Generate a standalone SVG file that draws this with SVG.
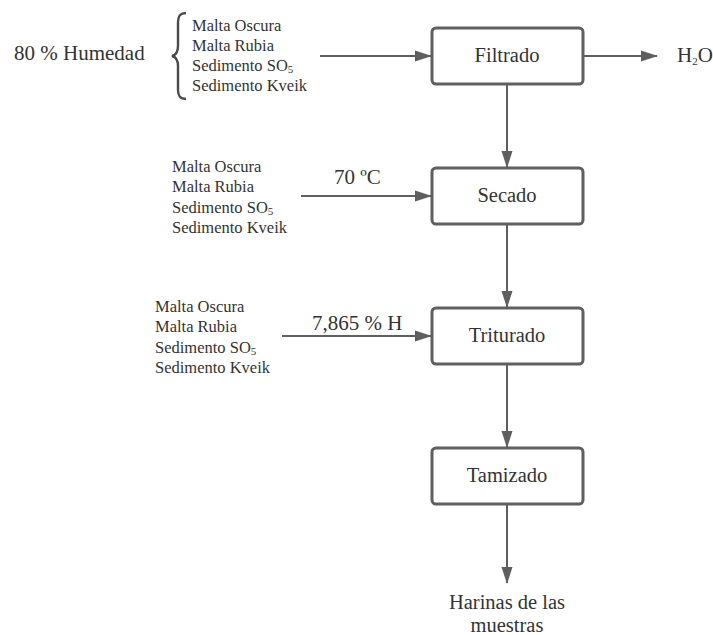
<svg xmlns="http://www.w3.org/2000/svg" width="713" height="635" viewBox="0 0 713 635">
<defs>
<style>
.box{fill:#fff;stroke:#5f5f5f;stroke-width:3}
text{font-family:'Liberation Serif','Times New Roman','DejaVu Serif',serif;fill:#333}
.lbl{font-size:20.5px;text-anchor:middle}
.lst{font-size:16.5px}
.big{font-size:21px}
.edge{stroke:#5f5f5f;stroke-width:2;fill:none;marker-end:url(#ah)}
.sub{font-size:11px}
</style>
<marker id="ah" viewBox="0 0 17 12" refX="16" refY="6" markerWidth="17" markerHeight="12" markerUnits="userSpaceOnUse" orient="auto">
<path d="M0,0.5 L17,6 L0,11.5 Z" fill="#5f5f5f"/>
</marker>
</defs>
<rect width="713" height="635" fill="#fff"/>

<g id="connectors">
<path class="edge" d="M320,56 H431"/>
<path class="edge" d="M583,56 H657"/>
<path class="edge" d="M507,84 V167"/>
<path class="edge" d="M301,196 H431"/>
<path class="edge" d="M507,224 V307"/>
<path class="edge" d="M282,336 H431"/>
<path class="edge" d="M507,364 V447"/>
<path class="edge" d="M507,504 V583"/>
</g>

<g id="filtrado">
<rect class="box" x="432" y="28" width="151" height="56" rx="4"/>
<text class="lbl" x="507" y="62">Filtrado</text>
</g>
<g id="secado">
<rect class="box" x="432" y="168" width="151" height="56" rx="4"/>
<text class="lbl" x="507" y="202">Secado</text>
</g>
<g id="triturado">
<rect class="box" x="432" y="308" width="151" height="56" rx="4"/>
<text class="lbl" x="507" y="342">Triturado</text>
</g>
<g id="tamizado">
<rect class="box" x="432" y="448" width="151" height="56" rx="4"/>
<text class="lbl" x="507" y="482">Tamizado</text>
</g>

<g id="h2o">
<text class="big" x="677" y="62">H<tspan class="sub" dy="3">2</tspan><tspan dy="-3">O</tspan></text>
</g>

<g id="humedad">
<text class="big" x="14" y="60">80 % Humedad</text>
<path d="M186,13 C180,13 178,16 178,22 V46 C178,52 176,55 172,56 C176,57 178,60 178,66 V90 C178,96 180,99 186,99" fill="none" stroke="#4a4a4a" stroke-width="2.4"/>
</g>

<g id="list1">
<text class="lst" x="192" y="31">Malta Oscura</text>
<text class="lst" x="192" y="51">Malta Rubia</text>
<text class="lst" x="192" y="71">Sedimento SO<tspan class="sub" dy="2">5</tspan></text>
<text class="lst" x="192" y="91">Sedimento Kveik</text>
</g>

<g id="list2">
<text class="lst" x="172" y="172">Malta Oscura</text>
<text class="lst" x="172" y="192">Malta Rubia</text>
<text class="lst" x="172" y="213">Sedimento SO<tspan class="sub" dy="2">5</tspan></text>
<text class="lst" x="172" y="233">Sedimento Kveik</text>
</g>
<g id="temp">
<text class="big" x="334" y="184">70 ºC</text>
</g>

<g id="list3">
<text class="lst" x="155" y="312">Malta Oscura</text>
<text class="lst" x="155" y="332">Malta Rubia</text>
<text class="lst" x="155" y="353">Sedimento SO<tspan class="sub" dy="2">5</tspan></text>
<text class="lst" x="155" y="373">Sedimento Kveik</text>
</g>
<g id="humedad2">
<text class="big" x="312" y="330">7,865 % H</text>
</g>

<g id="harinas">
<text class="lbl" x="507" y="609">Harinas de las</text>
<text class="lbl" x="507" y="632">muestras</text>
</g>
</svg>
